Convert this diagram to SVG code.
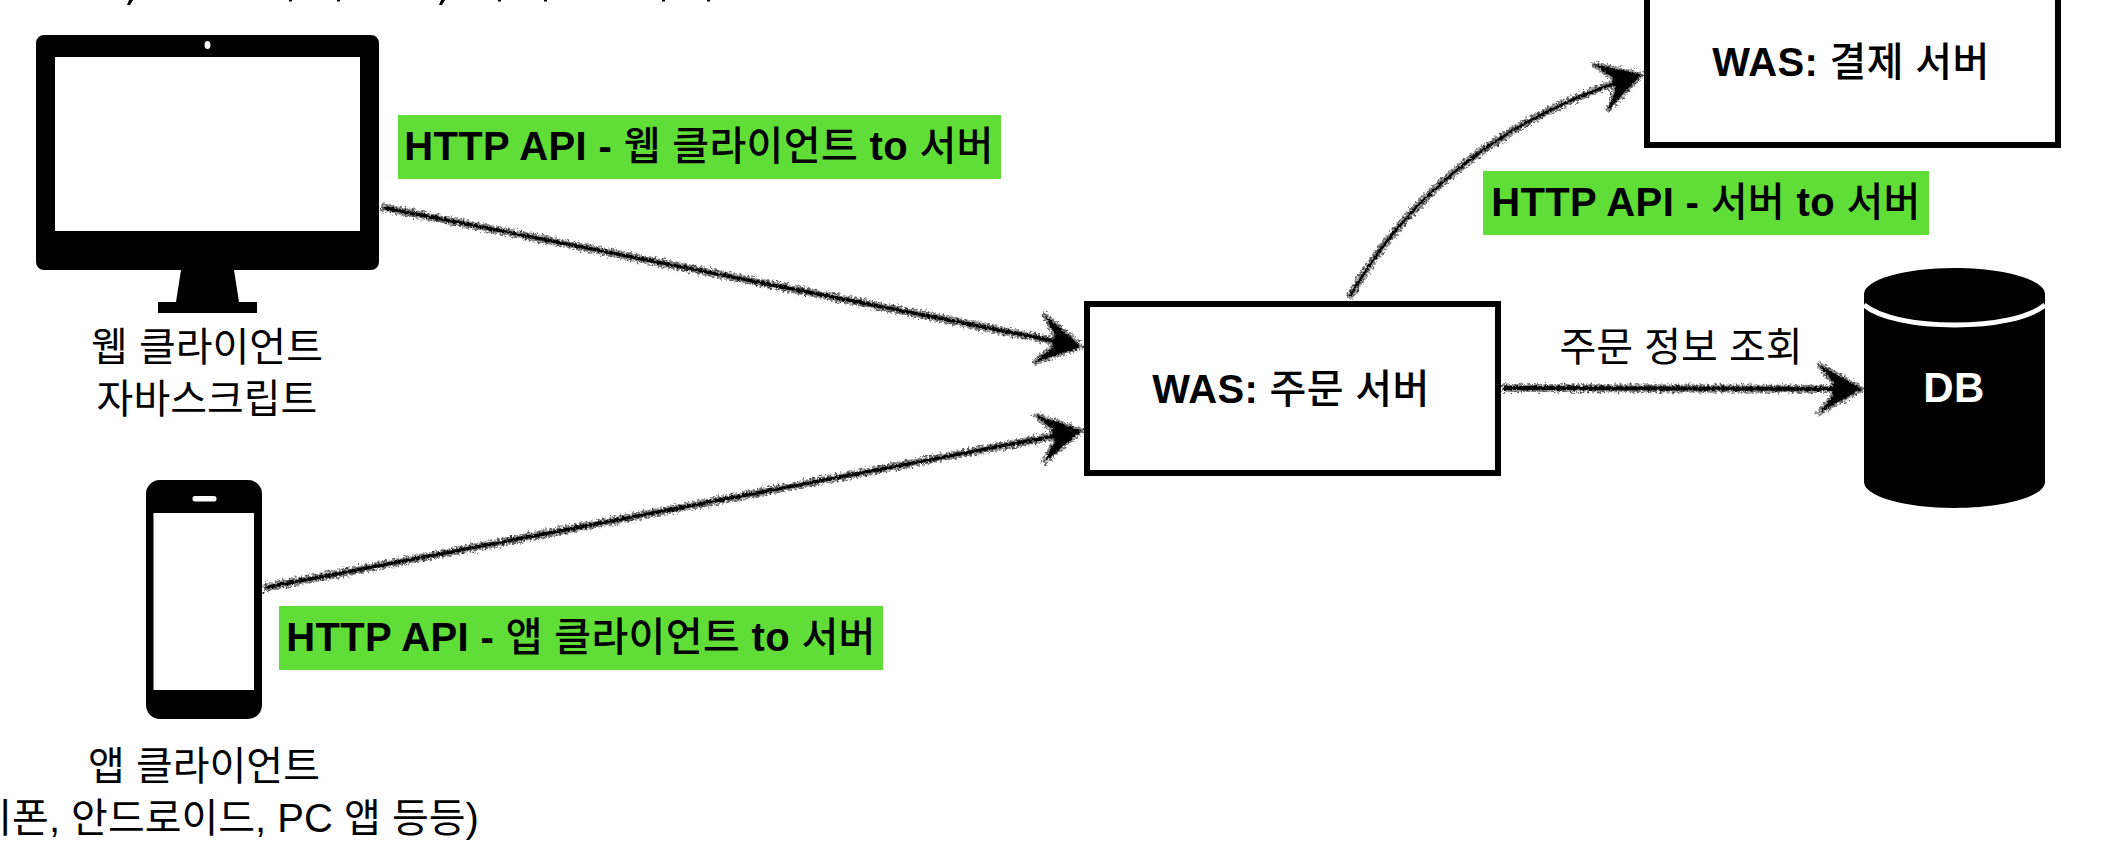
<svg xmlns="http://www.w3.org/2000/svg" width="2128" height="854" viewBox="0 0 2128 854">
<style>
text{font-family:"Liberation Sans","Noto Sans CJK KR",sans-serif;font-size:40px;fill:#000;text-anchor:middle}
.b{font-weight:700;letter-spacing:.35px}
.k{font-weight:500}
.g{fill:#61dd38}
.box{fill:#fff;stroke:#000;stroke-width:6}
.conn{fill:none;stroke:#000;stroke-width:8;marker-end:url(#head)}
</style>
<defs>
<marker id="head" markerUnits="userSpaceOnUse" viewBox="-60 -35 75 70" refX="0" refY="0" markerWidth="75" markerHeight="70" orient="auto">
<path d="M8,0 L-36,-25 L-20,-5 L-20,5 L-36,25 Z" fill="#000" stroke="#000" stroke-width="5" stroke-linejoin="miter" stroke-miterlimit="3"/>
</marker>
<filter id="rough" filterUnits="userSpaceOnUse" x="0" y="0" width="2128" height="854" color-interpolation-filters="sRGB">
<feTurbulence type="fractalNoise" baseFrequency="0.4" numOctaves="2" seed="7" result="n"/>
<feColorMatrix in="n" type="matrix" values="0 0 0 0 0 0 0 0 0 0 0 0 0 0 0 0 0 0 0 0 10 0 0 0 -3.500" result="m"/>
<feDisplacementMap in="SourceGraphic" in2="n" scale="8" xChannelSelector="R" yChannelSelector="G" result="d"/>
<feComposite in="d" in2="m" operator="in" result="spk"/>
<feMorphology in="SourceGraphic" operator="erode" radius="1.500" result="thin"/>
<feDisplacementMap in="thin" in2="n" scale="4" xChannelSelector="G" yChannelSelector="R" result="core"/>
<feMerge><feMergeNode in="spk"/><feMergeNode in="core"/></feMerge>
</filter>
</defs>
<rect width="2128" height="854" fill="#fff"/>
<g id="top-fragment"><path d="M127 5L129 0H133L130 5ZM439 5L441 0H445L442 5ZM289 0h3v1.500h-3ZM337 0h3v1.500h-3ZM498 0h3v1.500h-3ZM544 0h3v1.500h-3ZM662 0h3v1.500h-3ZM707 0h3v1.500h-3Z"/></g>
<g id="connectors" filter="url(#rough)">
<path class="conn" d="M381 207L1074 345"/>
<path class="conn" d="M263 588L1074 432"/>
<path class="conn" d="M1349 298C1410 190 1510 115 1634 77"/>
<path class="conn" d="M1502 388L1854 389"/>
</g>
<g id="web-client">
<path fill-rule="evenodd" d="M44 35H371a8 8 0 0 1 8 8V262a8 8 0 0 1-8 8H234L239 302H257V313H158V302H176L181 270H44a8 8 0 0 1-8-8V43a8 8 0 0 1 8-8ZM55 57V231H360V57Z"/>
<ellipse cx="207.500" cy="45" rx="3" ry="4" fill="#fff"/>
<text x="207" y="361">웹 클라이언트</text>
<text x="207" y="413">자바스크립트</text>
</g>
<g id="app-client">
<path fill-rule="evenodd" d="M160 480H248a14 14 0 0 1 14 14V705a14 14 0 0 1-14 14H160a14 14 0 0 1-14-14V494a14 14 0 0 1 14-14ZM153.500 513V690H254V513Z"/>
<rect x="192.500" y="496" width="24" height="5.500" rx="2.500" fill="#fff"/>
<text x="204" y="780">앱 클라이언트</text>
<text x="202" y="832">(아이폰, 안드로이드, PC 앱 등등)</text>
</g>
<g id="label-web"><rect class="g" x="398" y="115" width="603" height="64"/><text class="b" x="699" y="160">HTTP API - <tspan class="k">웹 클라이언트</tspan> to <tspan class="k">서버</tspan></text></g>
<g id="label-app"><rect class="g" x="279" y="606" width="604" height="64"/><text class="b" x="581" y="651">HTTP API - <tspan class="k">앱 클라이언트</tspan> to <tspan class="k">서버</tspan></text></g>
<g id="label-server"><rect class="g" x="1483" y="171" width="446" height="64"/><text class="b" x="1706" y="216">HTTP API - <tspan class="k">서버</tspan> to <tspan class="k">서버</tspan></text></g>
<g id="order-server"><rect class="box" x="1087" y="304" width="411" height="169"/><text class="b" x="1291" y="403">WAS: <tspan class="k">주문 서버</tspan></text></g>
<g id="pay-server"><rect class="box" x="1647" y="-40" width="411" height="185"/><text class="b" x="1851" y="76">WAS: <tspan class="k">결제 서버</tspan></text></g>
<g id="db">
<path d="M1864 294C1864 280 1904 268 1954.500 268S2045 280 2045 294V482C2045 496 2005 508 1954.500 508S1864 496 1864 482Z"/>
<path d="M1864 305C1880 318 1915 325 1954.500 325S2029 318 2045 305" fill="none" stroke="#fff" stroke-width="5"/>
<text class="b" x="1954" y="402" style="fill:#fff;font-size:42px">DB</text>
</g>
<text id="query-label" x="1681" y="361">주문 정보 조회</text>
</svg>
